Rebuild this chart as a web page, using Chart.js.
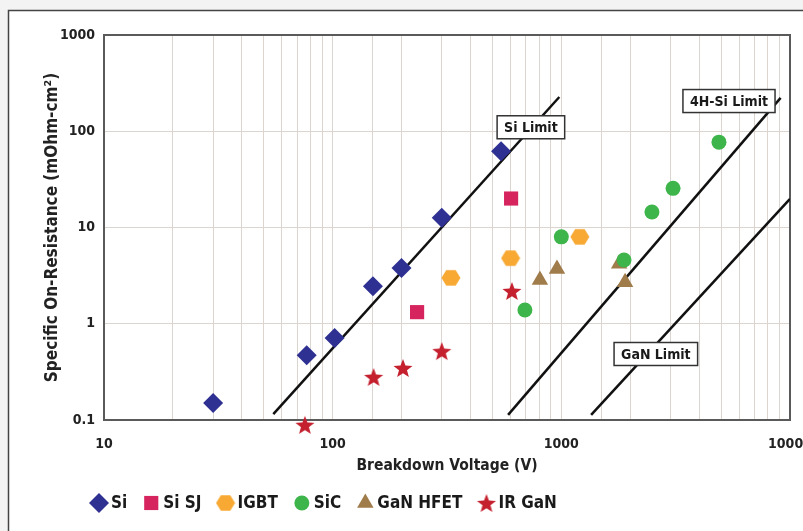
<!DOCTYPE html>
<html>
<head>
<meta charset="utf-8">
<script src="https://cdn.jsdelivr.net/npm/chart.js@4.4.1/dist/chart.umd.min.js"></script>
<style>
  html, body { margin: 0; padding: 0; background: #f3f3f3; }
  canvas { display: block; }
</style>
</head>
<body>
<canvas id="chart" width="803" height="531"></canvas>
<script>
const FONT = "'Liberation Sans Narrow', 'DejaVu Sans Condensed', 'Arial Narrow', sans-serif";

// data (V, mOhm-cm2)
const siX = [30, 77, 102, 150, 200, 300, 545];
const siY = [0.15, 0.47, 0.71, 2.45, 3.8, 12.6, 62];
const siSjX = [234, 603];
const siSjY = [1.32, 20];
const igbtX = [329, 600, 1205];
const igbtY = [3.0, 4.8, 8];
const sicX = [693, 1000, 1880, 2490, 3080, 4890];
const sicY = [1.39, 8, 4.6, 14.5, 25.5, 77];
const hfetX = [806, 957, 1790, 1900];
const hfetY = [2.85, 3.7, 4.2, 2.7];
const irX = [75.6, 151, 203, 300, 608];
const irY = [0.089, 0.28, 0.347, 0.52, 2.19];

// material limit lines
const siLimitX = [55, 980];
const siLimitY = [0.115, 227];
const sicLimitX = [585, 9100];
const sicLimitY = [0.113, 222];
const ganLimitX = [1350, 10000];
const ganLimitY = [0.113, 19.8];

const limitLabels = ['Si Limit', '4H-Si Limit', 'GaN Limit'];
const limitLabelX = [736, 5410, 2590];
const limitLabelY = [110, 206, 0.485];

const xTicks = [10, 100, 1000, 10000];
const xTickLabels = ['10', '100', '1000', '10000'];
const yTicks = [0.1, 1, 10, 100, 1000];
const yTickLabels = ['0.1', '1', '10', '100', '1000'];

const seriesNames = ['Si', 'Si SJ', 'IGBT', 'SiC', 'GaN HFET', 'IR GaN'];
const seriesColors = ['#2e3192', '#d6245f', '#f7a933', '#3db54a', '#a07c4b', '#c4202e'];

const pts = (xs, ys) => xs.map((x, i) => ({ x: x, y: ys[i] }));

function makeShape(draw, size) {
    const c = document.createElement('canvas');
    c.width = size; c.height = size;
    const g = c.getContext('2d');
    draw(g, size / 2);
    return c;
}
const hexagon = makeShape((g, m) => {
    g.fillStyle = seriesColors[2];
    g.beginPath();
    for (let i = 0; i < 6; i++) {
        const a = i * Math.PI / 3;
        g.lineTo(m + 9.5 * Math.cos(a), m + 9 * Math.sin(a));
    }
    g.closePath();
    g.fill();
}, 20);
const star = makeShape((g, m) => {
    g.fillStyle = seriesColors[5];
    g.beginPath();
    for (let i = 0; i < 10; i++) {
        const r = i % 2 ? 4.2 : 10;
        const a = -Math.PI / 2 + i * Math.PI / 5;
        g.lineTo(m + r * Math.cos(a), m + 1 + r * Math.sin(a));
    }
    g.closePath();
    g.fill();
}, 22);

const styles = ['rectRot', 'rect', hexagon, 'circle', 'triangle', star];
const radii = [10, 10, 10, 7.5, 9.5, 10];
const seriesData = [pts(siX, siY), pts(siSjX, siSjY), pts(igbtX, igbtY), pts(sicX, sicY), pts(hfetX, hfetY), pts(irX, irY)];

const datasets = seriesNames.map((name, i) => ({
    label: name,
    data: seriesData[i],
    pointStyle: styles[i],
    pointRadius: radii[i],
    pointHoverRadius: radii[i],
    backgroundColor: seriesColors[i],
    borderColor: seriesColors[i],
    borderWidth: 0,
    clip: false
}));
[[siLimitX, siLimitY], [sicLimitX, sicLimitY], [ganLimitX, ganLimitY]].forEach(([xs, ys], i) => {
    datasets.push({
        label: limitLabels[i],
        data: pts(xs, ys),
        showLine: true,
        borderColor: '#111',
        borderWidth: 2.5,
        pointRadius: 0
    });
});

const framePlugin = {
    id: 'frame',
    beforeDraw(chart) {
        const c = chart.ctx;
        c.save();
        c.fillStyle = '#f3f3f3';
        c.fillRect(0, 0, chart.width, chart.height);
        c.fillStyle = '#ffffff';
        c.fillRect(8, 10, chart.width, chart.height);
        c.strokeStyle = '#444';
        c.lineWidth = 1.5;
        c.strokeRect(8.5, 10.5, chart.width + 10, chart.height + 10);
        c.restore();
    },
    beforeDatasetsDraw(chart) {
        const c = chart.ctx;
        const a = chart.chartArea;
        c.save();
        c.strokeStyle = '#5a5a5a';
        c.lineWidth = 2;
        c.strokeRect(a.left, a.top, a.right - a.left, a.bottom - a.top);
        c.restore();
    },
    afterDatasetsDraw(chart) {
        const c = chart.ctx;
        c.save();

        // limit labels
        c.font = 'bold 14px ' + FONT;
        c.textAlign = 'center';
        c.textBaseline = 'middle';
        limitLabels.forEach((t, i) => {
            const x = chart.scales.x.getPixelForValue(limitLabelX[i]);
            const y = chart.scales.y.getPixelForValue(limitLabelY[i]);
            const w = c.measureText(t).width + 14;
            const h = 23;
            c.fillStyle = '#fff';
            c.fillRect(x - w / 2, y - h / 2, w, h);
            c.strokeStyle = '#333';
            c.lineWidth = 1.5;
            c.strokeRect(x - w / 2, y - h / 2, w, h);
            c.fillStyle = '#1a1a1a';
            c.fillText(t, x, y + 1);
        });

        // legend
        c.font = 'bold 17px ' + FONT;
        c.textAlign = 'left';
        let lx = 99;
        const ly = 503;
        seriesNames.forEach((name, i) => {
            c.fillStyle = seriesColors[i];
            Chart.helpers.drawPoint(c, { pointStyle: styles[i], radius: radii[i], borderWidth: 0 }, lx, ly);
            c.fillStyle = '#1a1a1a';
            const tx = lx + 12;
            c.fillText(name, tx, ly + 1);
            lx = tx + c.measureText(name).width + 24;
        });
        c.restore();
    }
};

const ctx = document.getElementById('chart').getContext('2d');
new Chart(ctx, {
    type: 'scatter',
    data: { datasets: datasets },
    options: {
        responsive: false,
        animation: false,
        layout: { padding: { top: 35, right: 13, left: 0, bottom: 0 } },
        plugins: { legend: { display: false }, tooltip: { enabled: false } },
        scales: {
            x: {
                type: 'logarithmic',
                min: 10,
                max: 10000,
                afterFit(s) { s.height = 111; s.paddingRight = 0; },
                grid: { color: '#dcd4cf', lineWidth: 1, drawTicks: false },
                border: { color: '#5a5a5a', width: 2 },
                ticks: {
                    autoSkip: false,
                    maxRotation: 0,
                    padding: 16,
                    color: '#222',
                    font: { family: FONT, size: 14, weight: 'bold' },
                    callback: (v) => {
                        const k = xTicks.findIndex(t => Math.abs(t - v) < 1e-6 * t);
                        return k >= 0 ? xTickLabels[k] : '';
                    }
                },
                title: {
                    display: true,
                    text: 'Breakdown Voltage (V)',
                    color: '#222',
                    font: { family: FONT, size: 15.5, weight: 'bold' },
                    padding: { top: 0, bottom: 56 }
                }
            },
            y: {
                type: 'logarithmic',
                min: 0.1,
                max: 1000,
                afterFit(s) { s.width = 104; },
                afterBuildTicks(s) { s.ticks = yTicks.map(v => ({ value: v })); },
                grid: { color: '#dcd4cf', lineWidth: 1, drawTicks: false },
                border: { color: '#5a5a5a', width: 2 },
                ticks: {
                    padding: 9,
                    color: '#222',
                    font: { family: FONT, size: 14, weight: 'bold' },
                    callback: (v) => {
                        const k = yTicks.findIndex(t => Math.abs(t - v) < 1e-6 * t);
                        return k >= 0 ? yTickLabels[k] : '';
                    }
                },
                title: {
                    display: true,
                    text: 'Specific On-Resistance (mOhm-cm²)',
                    color: '#222',
                    font: { family: FONT, size: 17, weight: 'bold' },
                    padding: { top: 42, bottom: 0 }
                }
            }
        }
    },
    plugins: [framePlugin]
});
</script>
</body>
</html>
